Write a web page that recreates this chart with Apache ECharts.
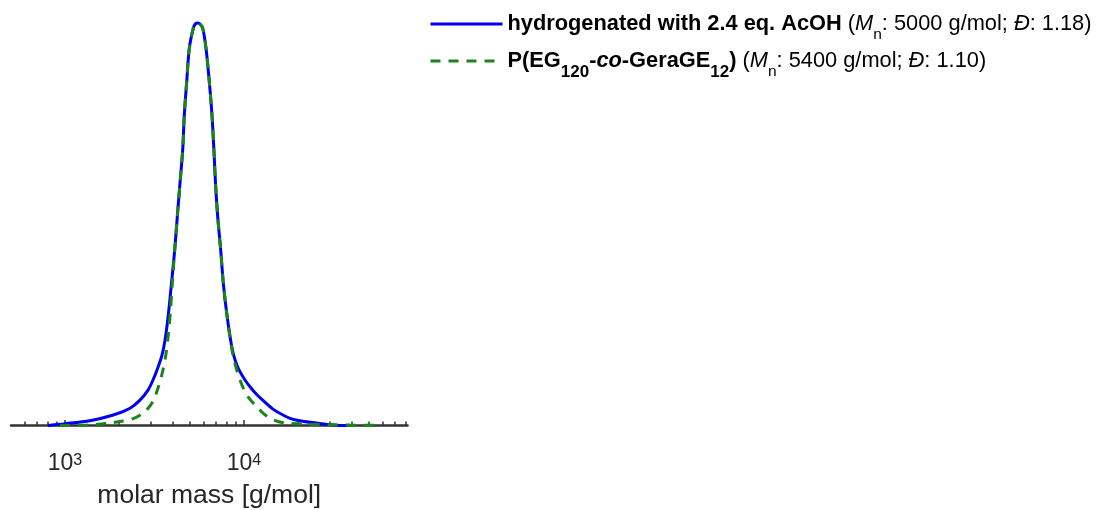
<!DOCTYPE html>
<html>
<head>
<meta charset="utf-8">
<title>SEC traces</title>
<script src="https://cdn.jsdelivr.net/npm/echarts@6/dist/echarts.min.js"></script>
<style>
  html, body { margin: 0; padding: 0; background: #fff; }
  #chart { width: 1101px; height: 510px; }
</style>
</head>
<body>
<div id="chart"></div>
<script>
// SEC elugrams: normalised RI signal against molar mass (log scale)
const seriesNames = [
  'hydrogenated with 2.4 eq. AcOH',
  'P(EG120-co-GeraGE12)'
];

// hydrogenated polymer (solid blue)
const blueMass = [805, 980, 1381, 1864, 2311, 2627, 2913, 3106, 3313, 3487, 3625, 3782, 3951,
  4106, 4246, 4395, 4551, 4646, 4791, 4955, 5216, 5360, 5520, 5700, 5888, 6142,
  6409, 6632, 6807, 6939, 7138, 7420, 7673, 8016, 8548, 8920, 9389, 10141, 10956,
  11790, 12953, 14600, 16540, 18880, 25510, 35930, 37670];
const blueIntensity = [0, 0.004, 0.012, 0.026, 0.043, 0.063, 0.088, 0.113, 0.145, 0.175, 0.212, 0.275, 0.359,
  0.436, 0.519, 0.602, 0.685, 0.771, 0.854, 0.937, 0.987, 0.998, 1.0, 0.997, 0.987, 0.937,
  0.854, 0.771, 0.680, 0.602, 0.519, 0.436, 0.353, 0.279, 0.196, 0.163, 0.138, 0.113, 0.093,
  0.077, 0.060, 0.040, 0.026, 0.015, 0.006, 0.0, 0.0];

// parent copolymer P(EG120-co-GeraGE12) (dashed green)
const greenMass = [939, 1324, 1787, 2032, 2411, 2696, 2931, 3126, 3313, 3487, 3648, 3792, 3890, 3992,
  4106, 4246, 4395, 4551, 4646, 4791, 4955, 5216, 5360, 5520, 5700, 5888, 6142,
  6409, 6632, 6807, 6939, 7138, 7420, 7673, 8016, 8373, 8703, 9117, 9511, 9923, 10679,
  11790, 12787, 13990, 15505, 17340, 23400, 39140, 55200, 59090];
const greenIntensity = [0, 0.001, 0.006, 0.010, 0.017, 0.029, 0.044, 0.063, 0.093, 0.128, 0.170, 0.230, 0.287, 0.359,
  0.436, 0.519, 0.602, 0.685, 0.771, 0.854, 0.937, 0.987, 0.998, 1.0, 0.997, 0.987, 0.937,
  0.854, 0.771, 0.680, 0.602, 0.519, 0.436, 0.353, 0.279, 0.217, 0.173, 0.138, 0.113, 0.093, 0.068,
  0.047, 0.031, 0.018, 0.010, 0.006, 0.003, 0.001, 0.0005, 0.0];

// x-axis range and tick positions
const massMin = 500;
const massMax = 82000;
const majorTicks = [1000, 10000];
const minorTicks = [600, 700, 800, 900, 2000, 3000, 4000, 5000, 6000, 7000, 8000, 9000,
  20000, 30000, 40000, 50000, 60000, 70000, 80000];

const axisTitle = 'molar mass [g/mol]';

const legendText = {
  'hydrogenated with 2.4 eq. AcOH':
    '{b|hydrogenated with 2.4 eq. AcOH}{r| (}{i|M}{s|n}{r|: 5000 g/mol; }{i|Đ}{r|: 1.18)}',
  'P(EG120-co-GeraGE12)':
    '{b|P(EG}{bs|120}{b|-}{bi|co}{b|-GeraGE}{bs|12}{b|)}{r| (}{i|M}{s|n}{r|: 5400 g/mol; }{i|Đ}{r|: 1.10)}'
};

const FONT = '"Liberation Sans", Arial, Helvetica, sans-serif';
const AX = '#262626';

function pairs(xs, ys) {
  return xs.map((x, i) => [x, ys[i]]);
}

// both grids share one rectangle; the second one only carries the minor ticks
const gridBox = { left: 11, right: 693.5, top: 23, bottom: 84.5, outerBoundsMode: 'none', containLabel: false };

const mainTok = { fontFamily: FONT, fontSize: 21.8, lineHeight: 22, verticalAlign: 'top', color: '#000' };
const subTok = { fontFamily: FONT, fontSize: 15.5, lineHeight: 15, verticalAlign: 'top', padding: [13.5, 0, 1.5, 0], color: '#000' };

const chart = echarts.init(document.getElementById('chart'), null, { renderer: 'canvas' });

chart.setOption({
  animation: false,
  backgroundColor: '#fff',
  grid: [
    Object.assign({}, gridBox),
    Object.assign({}, gridBox)
  ],
  xAxis: [
    {
      type: 'log',
      logBase: 10,
      gridIndex: 0,
      min: massMin,
      max: massMax,
      name: axisTitle,
      nameLocation: 'middle',
      nameGap: 56.5,
      nameTextStyle: { fontFamily: FONT, fontSize: 26.5, color: AX },
      axisLine: { show: true, onZero: false, lineStyle: { color: '#333', width: 2.5 } },
      axisTick: { show: true, inside: true, length: 5.5, customValues: majorTicks,
        lineStyle: { color: '#333', width: 1.5 } },
      axisLabel: {
        show: true,
        margin: 27,
        customValues: majorTicks,
        formatter: function (v) {
          return '{a|10}{p|' + Math.round(Math.log10(v)) + '}';
        },
        rich: {
          a: { fontFamily: FONT, fontSize: 23, lineHeight: 23, padding: [4, 0, 0, 0], verticalAlign: 'bottom', color: AX },
          p: { fontFamily: FONT, fontSize: 16, lineHeight: 16, verticalAlign: 'top', color: AX }
        }
      },
      splitLine: { show: false },
      minorTick: { show: false },
      minorSplitLine: { show: false }
    },
    {
      // minor ticks at 2..9 x 10^n
      type: 'log',
      logBase: 10,
      gridIndex: 1,
      min: massMin,
      max: massMax,
      axisLine: { show: false, onZero: false },
      axisTick: { show: true, inside: true, length: 4, customValues: minorTicks,
        lineStyle: { color: '#333', width: 1.5 } },
      axisLabel: { show: false },
      splitLine: { show: false }
    }
  ],
  yAxis: [
    { type: 'value', gridIndex: 0, min: 0, max: 1, show: false },
    { type: 'value', gridIndex: 1, min: 0, max: 1, show: false }
  ],
  legend: {
    orient: 'vertical',
    left: 429,
    top: 13,
    padding: 0,
    itemWidth: 72,
    itemHeight: 14,
    itemGap: 6,
    data: seriesNames,
    lineStyle: { width: 3 },
    itemStyle: { color: 'rgba(0,0,0,0)', borderWidth: 0, opacity: 0 },
    formatter: function (name) { return legendText[name]; },
    textStyle: {
      fontFamily: FONT,
      color: '#000',
      rich: {
        b: Object.assign({}, mainTok, { fontWeight: 'bold' }),
        bi: Object.assign({}, mainTok, { fontWeight: 'bold', fontStyle: 'italic' }),
        bs: Object.assign({}, subTok, { fontWeight: 'bold', fontSize: 17 }),
        r: Object.assign({}, mainTok),
        i: Object.assign({}, mainTok, { fontStyle: 'italic' }),
        s: Object.assign({}, subTok)
      }
    }
  },
  series: [
    {
      name: seriesNames[0],
      type: 'line',
      xAxisIndex: 0,
      yAxisIndex: 0,
      data: pairs(blueMass, blueIntensity),
      symbol: 'none',
      showSymbol: false,
      smooth: 0.3,
      clip: false,
      lineStyle: { color: '#0000f0', width: 3 },
      itemStyle: { color: '#0000f0' },
      z: 2
    },
    {
      name: seriesNames[1],
      type: 'line',
      xAxisIndex: 0,
      yAxisIndex: 0,
      data: pairs(greenMass, greenIntensity),
      symbol: 'none',
      showSymbol: false,
      smooth: 0.3,
      clip: false,
      lineStyle: { color: '#1a861a', width: 3, type: [10, 8] },
      itemStyle: { color: '#1a861a' },
      z: 3
    }
  ]
});
</script>
</body>
</html>
